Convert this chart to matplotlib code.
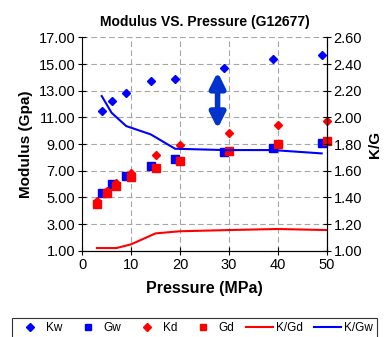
import matplotlib
matplotlib.use("Agg")
import matplotlib.pyplot as plt
from matplotlib.lines import Line2D

plt.rcParams['font.family'] = ['Liberation Sans', 'DejaVu Sans']

# Data
p_w = [4, 6, 9, 14, 19, 29, 39, 49]
kw = [11.5, 12.2, 12.8, 13.7, 13.9, 14.7, 15.4, 15.7]
gw = [5.35, 6.0, 6.6, 7.33, 7.9, 8.4, 8.7, 9.05]
kgw = [2.16, 2.035, 1.935, 1.873, 1.765, 1.755, 1.755, 1.73]

p_d = [3, 5, 7, 10, 15, 20, 30, 40, 50]
kd = [4.7, 5.5, 6.05, 6.8, 8.2, 8.9, 9.8, 10.45, 10.75]
gd = [4.53, 5.3, 5.85, 6.55, 7.18, 7.75, 8.48, 9.0, 9.2]
kgd = [1.02, 1.02, 1.02, 1.048, 1.13, 1.146, 1.155, 1.163, 1.155]

left_ticks = [1, 3, 5, 7, 9, 11, 13, 15, 17]
right_ticks = [1.0, 1.2, 1.4, 1.6, 1.8, 2.0, 2.2, 2.4, 2.6]
x_ticks = [0, 10, 20, 30, 40, 50]

fig = plt.figure(figsize=(3.86, 3.37), dpi=100)
ax = fig.add_axes([0.213, 0.256, 0.633, 0.633])
ax2 = ax.twinx()

ax.set_xlim(0, 50)
ax.set_ylim(1, 17)
ax2.set_ylim(1.0, 2.6)

ax.set_xticks(x_ticks)
ax.set_yticks(left_ticks)
ax.set_yticklabels([f"{v:.2f}" for v in left_ticks])
ax2.set_yticks(right_ticks)
ax2.set_yticklabels([f"{v:.2f}" for v in right_ticks])

ax.grid(True, color='#a6a6a6', linestyle=(0, (5, 3)), linewidth=0.8)
ax.set_axisbelow(True)

for a in (ax, ax2):
    a.spines['top'].set_visible(False)
    a.tick_params(direction='inout', length=6, width=0.8, labelsize=10.5, pad=2)
ax2.spines['left'].set_visible(False)

ax.plot(p_w, kw, linestyle='none', marker='D', markersize=4.5, color='#0000ff', clip_on=False)
ax.plot(p_w, gw, linestyle='none', marker='s', markersize=6, color='#0000ff', clip_on=False)
ax.plot(p_d, kd, linestyle='none', marker='D', markersize=4.5, color='#ff0000', clip_on=False)
ax.plot(p_d, gd, linestyle='none', marker='s', markersize=6, color='#ff0000', clip_on=False)
ax2.plot(p_d, kgd, color='#ff0000', linewidth=1.5)
ax2.plot(p_w, kgw, color='#0000ff', linewidth=1.5)

ax.annotate('', xy=(27.7, 10.15), xytext=(27.7, 14.4),
            arrowprops=dict(arrowstyle='<|-|>,head_width=0.45,head_length=0.9',
                            lw=4, color='#0033cc', shrinkA=0, shrinkB=0))

ax.set_title('Modulus VS. Pressure (G12677)', fontsize=10, fontweight='bold', pad=8)
ax.set_xlabel('Pressure (MPa)', fontsize=11.5, fontweight='bold', labelpad=7)
ax.set_ylabel('Modulus (Gpa)', fontsize=11, fontweight='bold', labelpad=4)
ax2.set_ylabel('K/G', fontsize=11, fontweight='bold', labelpad=4)

handles = [
    Line2D([], [], linestyle='none', marker='D', markersize=4, color='#0000ff'),
    Line2D([], [], linestyle='none', marker='s', markersize=5, color='#0000ff'),
    Line2D([], [], linestyle='none', marker='D', markersize=4, color='#ff0000'),
    Line2D([], [], linestyle='none', marker='s', markersize=5, color='#ff0000'),
    Line2D([], [], color='#ff0000', linewidth=1.5),
    Line2D([], [], color='#0000ff', linewidth=1.5),
]
labels = ['Kw', 'Gw', 'Kd', 'Gd', 'K/Gd', 'K/Gw']
leg = fig.legend(handles, labels, loc='lower left', bbox_to_anchor=(0.026, -0.01),
                 ncol=6, fontsize=8.5, frameon=True, fancybox=False,
                 edgecolor='black', handlelength=2.3, columnspacing=1.0,
                 handletextpad=0.2, borderpad=0.35, borderaxespad=0.2)
leg.get_frame().set_linewidth(0.8)

fig.savefig('out.png', dpi=100)
